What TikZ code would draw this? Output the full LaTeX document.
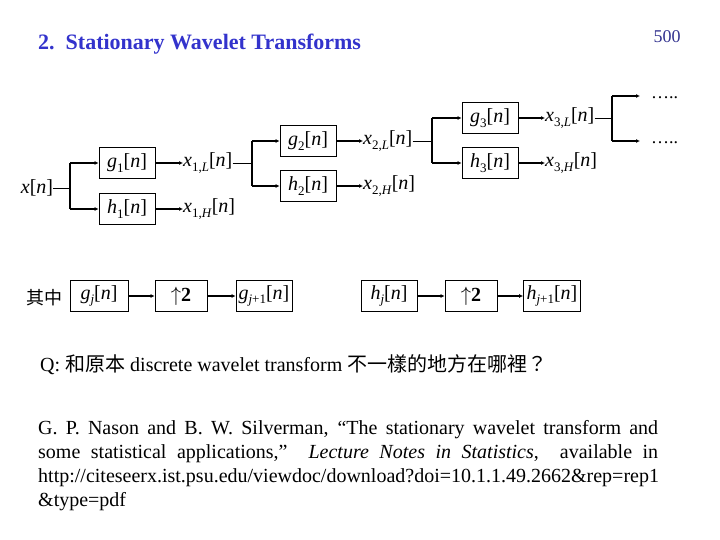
\documentclass[tikz,border=0pt]{standalone}
\usepackage{fontspec}
\setmainfont{Liberation Serif}
\newfontfamily\cjk{Noto Sans CJK TC}
\usetikzlibrary{arrows.meta}
\definecolor{titleblue}{HTML}{3333CC}
\definecolor{numblue}{HTML}{33338F}
\newcommand\lsub[1]{\raisebox{-0.5ex}{\fontsize{13}{13}\selectfont #1}}
\newcommand\sig[2]{\textit{#1}\lsub{#2}[\textit{n}]}
\newcommand\sigs[2]{\textit{#1}\lsub{\textit{#2}}[\textit{n}]}
\begin{document}
\begin{tikzpicture}[x=1pt,y=-1pt,
  box/.style={draw,line width=0.8pt,minimum width=56pt,minimum height=31pt,inner sep=0pt,font=\fontsize{20}{20}\selectfont},
  lab/.style={anchor=west,inner sep=0pt,font=\fontsize{20}{20}\selectfont},
  arr/.style={line width=2pt,-{Latex[length=4pt,width=4pt]}},
  jn/.style={line width=2pt},
  thinl/.style={line width=0.8pt}]
\useasboundingbox (0,0) rectangle (720,540);
% title
\node[anchor=west,inner sep=0pt,text=titleblue,font=\fontsize{22}{22}\selectfont\bfseries] (title) at (38,44) {2.\ \ Stationary Wavelet Transforms};
\node[inner sep=0pt,text=numblue,font=\fontsize{18}{18}\selectfont] (pg) at (667,37) {500};
% level 1
\node[inner sep=0pt,font=\fontsize{20}{20}\selectfont] (xin) at (37,188) {\textit{x}[\textit{n}]};
\coordinate (j0) at (70,188);
\coordinate (j0a) at (70,163);
\coordinate (j0b) at (70,209);
\node[box] (g1) at (127,163) {\sig{g}{1}};
\node[box] (h1) at (127,209) {\sig{h}{1}};
\node[lab] (x1L) at (183,163) {\textit{x}\lsub{1,\textit{L}}[\textit{n}]};
\node[lab] (x1H) at (183,209) {\textit{x}\lsub{1,\textit{H}}[\textit{n}]};
\draw[thinl] (xin.east) -- (j0);
\draw[jn] (j0a) -- (j0b);
\draw[arr] (j0a) -- (g1.west);
\draw[arr] (j0b) -- (h1.west);
\draw[arr] (g1.east) -- (x1L.west);
\draw[arr] (h1.east) -- (x1H.west);
% level 2
\coordinate (j1) at (252,163);
\coordinate (j1a) at (252,141);
\coordinate (j1b) at (252,186);
\node[box] (g2) at (308,141) {\sig{g}{2}};
\node[box] (h2) at (308,186) {\sig{h}{2}};
\node[lab] (x2L) at (363,141) {\textit{x}\lsub{2,\textit{L}}[\textit{n}]};
\node[lab] (x2H) at (363,186) {\textit{x}\lsub{2,\textit{H}}[\textit{n}]};
\draw[thinl] (x1L.east) -- (j1);
\draw[jn] (j1a) -- (j1b);
\draw[arr] (j1a) -- (g2.west);
\draw[arr] (j1b) -- (h2.west);
\draw[arr] (g2.east) -- (x2L.west);
\draw[arr] (h2.east) -- (x2H.west);
% level 3
\coordinate (j2) at (432,141);
\coordinate (j2a) at (432,118);
\coordinate (j2b) at (432,163);
\node[box] (g3) at (490,118) {\sig{g}{3}};
\node[box] (h3) at (490,163) {\sig{h}{3}};
\node[lab] (x3L) at (545,118) {\textit{x}\lsub{3,\textit{L}}[\textit{n}]};
\node[lab] (x3H) at (545,163) {\textit{x}\lsub{3,\textit{H}}[\textit{n}]};
\draw[thinl] (x2L.east) -- (j2);
\draw[jn] (j2a) -- (j2b);
\draw[arr] (j2a) -- (g3.west);
\draw[arr] (j2b) -- (h3.west);
\draw[arr] (g3.east) -- (x3L.west);
\draw[arr] (h3.east) -- (x3H.west);
% level 4 dots
\coordinate (j3) at (612,118);
\coordinate (j3a) at (612,96);
\coordinate (j3b) at (612,141);
\coordinate (e3a) at (640,96);
\coordinate (e3b) at (640,141);
\node[anchor=base west,inner sep=0pt,font=\fontsize{18}{18}\selectfont] (d1) at (651,99) {\ldots..};
\node[anchor=base west,inner sep=0pt,font=\fontsize{18}{18}\selectfont] (d2) at (651,144) {\ldots..};
\draw[thinl] (x3L.east) -- (j3);
\draw[jn] (j3a) -- (j3b);
\draw[arr] (j3a) -- (e3a);
\draw[arr] (j3b) -- (e3b);
% bottom row
\node[inner sep=0pt,font=\fontsize{18}{18}\cjk] (qz) at (45,298) {其中};
\node[box,minimum width=58pt] (gj) at (99,296) {\sigs{g}{j}};
\node[box,minimum width=52pt] (up1) at (181,296) {$\uparrow$\textbf{2}};
\node[box] (gj1) at (264,296) {\textit{g}\lsub{\textit{j}+1}[\textit{n}]};
\draw[arr] (gj.east) -- (up1.west);
\draw[arr] (up1.east) -- (gj1.west);
\node[box] (hj) at (389,296) {\sigs{h}{j}};
\node[box,minimum width=52pt] (up2) at (471,296) {$\uparrow$\textbf{2}};
\node[box,minimum width=57pt] (hj1) at (552,296) {\textit{h}\lsub{\textit{j}+1}[\textit{n}]};
\draw[arr] (hj.east) -- (up2.west);
\draw[arr] (up2.east) -- (hj1.west);
% question
\node[anchor=west,inner sep=0pt,font=\fontsize{20}{20}\selectfont] (q) at (40,365) {Q: {\cjk 和原本} discrete wavelet transform {\cjk 不一樣的地方在哪裡？}};
% reference
\node[anchor=north west,inner sep=0pt,text width=620pt,align=justify,font=\fontsize{20}{24}\selectfont] (ref) at (38,420)
{G. P. Nason and B. W. Silverman, ``The stationary wavelet transform and\linebreak
some statistical applications,''\ \ \textit{Lecture Notes in Statistics},\ \ available in\linebreak
http://citeseerx.ist.psu.edu/viewdoc/download?doi=10.1.1.49.2662\&rep=rep1\\
\&type=pdf};
\end{tikzpicture}
\end{document}
